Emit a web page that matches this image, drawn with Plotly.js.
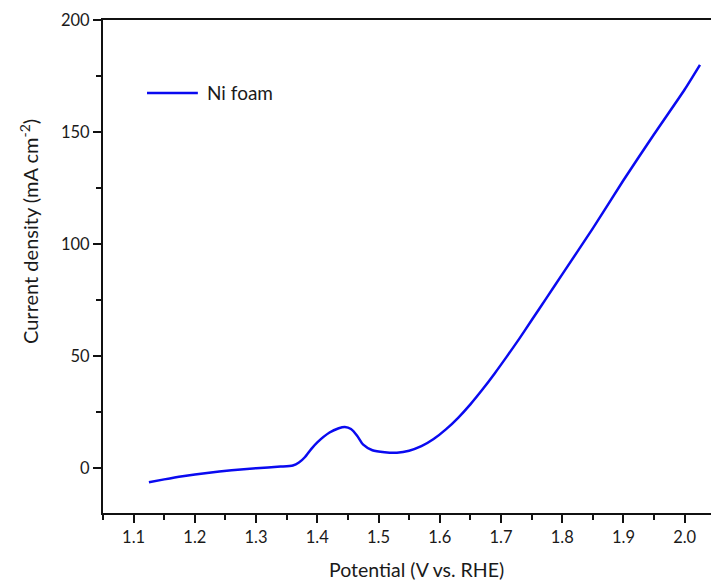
<!DOCTYPE html>
<html>
<head>
<meta charset="utf-8">
<script src="https://cdn.plot.ly/plotly-3.0.1.min.js"></script>
<style>html,body{margin:0;padding:0;background:#fff;}#chart{width:711px;height:582px;}</style>
</head>
<body>
<div id="chart"></div>
<script>
const seriesName = "Ni foam";
const potential = [1.125,1.15,1.18,1.22,1.26,1.30,1.34,1.36,1.37,1.38,1.39,1.40,1.42,1.435,1.445,1.455,1.465,1.475,1.49,1.51,1.53,1.55,1.57,1.59,1.61,1.63,1.65,1.67,1.69,1.71,1.73,1.75,1.775,1.80,1.85,1.90,1.95,2.00,2.025];
const current = [-6.3,-5.0,-3.6,-2.1,-0.9,0,0.7,1.2,2.5,5,8.5,11.5,15.9,17.8,18.4,17.5,14.5,10.5,8.0,7.1,6.9,7.8,9.8,13.0,17.3,22.5,28.5,35.2,42.4,50.0,57.8,66.0,76.2,86.5,107,128.5,149,169,180];
const xTicks = [1.1,1.2,1.3,1.4,1.5,1.6,1.7,1.8,1.9,2.0];
const xTickText = ["1.1","1.2","1.3","1.4","1.5","1.6","1.7","1.8","1.9","2.0"];
const yTicks = [0,50,100,150,200];
const xTitle = "Potential (V vs. RHE)";
const yTitle = "Current density (mA cm<sup>-2</sup>)";

const font = "Lato, 'Noto Sans', sans-serif";
const ink = '#1a1a1a';
const data = [{
  x: potential, y: current, type: 'scatter', mode: 'lines', name: seriesName,
  showlegend: false,
  line: {color: '#0a0af0', width: 2.5, shape: 'spline', smoothing: 0.6}
}];
const layout = {
  width: 711, height: 582,
  margin: {l: 103, r: 0, t: 20, b: 69},
  paper_bgcolor: '#fff', plot_bgcolor: '#fff',
  font: {family: font, color: ink},
  showlegend: false,
  xaxis: {
    range: [1.05, 2.043], tickvals: xTicks, ticktext: xTickText,
    ticks: 'outside', ticklen: 8, tickwidth: 2, tickcolor: '#111',
    showline: true, linewidth: 2, linecolor: '#111', mirror: true,
    showgrid: false, zeroline: false,
    minor: {dtick: 0.05, ticks: 'outside', ticklen: 5, tickwidth: 2, tickcolor: '#111', tick0: 1.05},
    tickfont: {size: 16.5, family: font, color: ink}
  },
  yaxis: {
    range: [-20, 200], tickvals: yTicks,
    ticks: 'outside', ticklen: 8, tickwidth: 2, tickcolor: '#111',
    showline: true, linewidth: 2, linecolor: '#111',
    showgrid: false, zeroline: false,
    minor: {dtick: 25, ticks: 'outside', ticklen: 5, tickwidth: 2, tickcolor: '#111', tick0: 0},
    tickfont: {size: 16.5, family: font, color: ink}
  },
  shapes: [{
    type: 'line', xref: 'paper', yref: 'paper', x0: 0.0724, x1: 0.156, y0: 0.852, y1: 0.852,
    line: {color: '#0a0af0', width: 2.5}
  }],
  annotations: [
    {text: seriesName, xref: 'paper', yref: 'paper', x: 0.168, y: 0.852, xanchor: 'left', yanchor: 'middle',
     showarrow: false, font: {size: 19, family: font, color: ink}},
    {text: xTitle, xref: 'paper', yref: 'paper', x: 0.515, y: -0.1136, xanchor: 'center', yanchor: 'middle',
     showarrow: false, font: {size: 19.5, family: font, color: ink}},
    {text: yTitle, xref: 'paper', yref: 'paper', x: -0.1217, y: 0.570, xanchor: 'center', yanchor: 'middle',
     textangle: -90, showarrow: false, font: {size: 20, family: font, color: ink}}
  ]
};
Plotly.newPlot('chart', data, layout, {displayModeBar: false, staticPlot: true});
</script>
</body>
</html>
